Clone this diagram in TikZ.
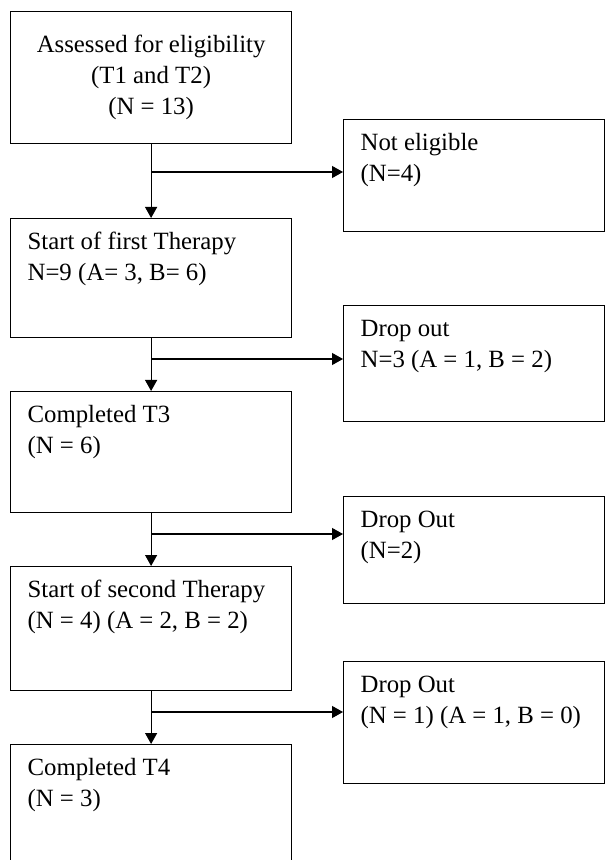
\documentclass[tikz,border=0pt]{standalone}
\usepackage{fontspec}
\setmainfont{Liberation Serif}
\usetikzlibrary{arrows.meta}

\begin{document}
\begin{tikzpicture}[x=0.5pt,y=-0.5pt,line width=0.6pt,
  stage/.style={draw,inner sep=0pt,anchor=north west,minimum width=140.5pt},
  dropbox/.style={draw,inner sep=0pt,anchor=north west,minimum width=130.5pt},
  txt/.style={inner sep=0pt,anchor=north west,align=left,font=\fontsize{12.4}{15.5}\selectfont},
  arr/.style={-{Triangle[length=5.5pt,width=6pt]}}]
% flow of participants, px grid (y down); last box runs off the page
\clip (0,0) rectangle (608,860);
% main column
\node[stage,minimum height=66pt]   (b1) at (10,11)  {};
\node[stage,minimum height=59.5pt] (b2) at (10,218) {};
\node[stage,minimum height=60.5pt] (b3) at (10,391) {};
\node[stage,minimum height=62pt]   (b4) at (10,566) {};
\node[stage,minimum height=70pt]   (b5) at (10,744) {};
% side boxes
\node[dropbox,minimum height=56pt]   (nb) at (343,119) {};
\node[dropbox,minimum height=58pt]   (d1) at (343,305) {};
\node[dropbox,minimum height=53.5pt] (d2) at (343,496) {};
\node[dropbox,minimum height=61pt]   (d3) at (343,661) {};
% texts
\node[txt,anchor=center,align=center] (t1) at (b1.center) {Assessed for eligibility\\(T1 and T2)\\(N = 13)};
\node[txt] (t2) at ([shift={(17,7)}]b2.north west) {\rule{0pt}{12pt}Start of first Therapy\\N=9 (A= 3, B= 6)};
\node[txt] (t3) at ([shift={(17,7)}]b3.north west) {\rule{0pt}{12pt}Completed T3\\(N = 6)};
\node[txt] (t4) at ([shift={(17,7)}]b4.north west) {\rule{0pt}{12pt}Start of second Therapy\\(N = 4) (A = 2, B = 2)};
\node[txt] (t5) at ([shift={(17,7)}]b5.north west) {\rule{0pt}{12pt}Completed T4\\(N = 3)};
\node[txt] (tn) at ([shift={(17,7)}]nb.north west) {\rule{0pt}{12pt}Not eligible\\(N=4)};
\node[txt] (u1) at ([shift={(17,7)}]d1.north west) {\rule{0pt}{12pt}Drop out\\N=3 (A = 1, B = 2)};
\node[txt] (u2) at ([shift={(17,7)}]d2.north west) {\rule{0pt}{12pt}Drop Out\\(N=2)};
\node[txt] (u3) at ([shift={(17,7)}]d3.north west) {\rule{0pt}{12pt}Drop Out\\(N = 1) (A = 1, B = 0)};
% arrows down and branches out
\foreach \a/\b/\s/\y/\j in {b1/b2/nb/172/j1,b2/b3/d1/359/j2,b3/b4/d2/534/j3,b4/b5/d3/712/j4} {
  \draw[arr] (\a.south) -- (\b.north);
  \coordinate (\j) at (\a.south |- 0,\y);
  \draw[arr] (\j) -- (\j -| \s.west);
}
\end{tikzpicture}
\end{document}
